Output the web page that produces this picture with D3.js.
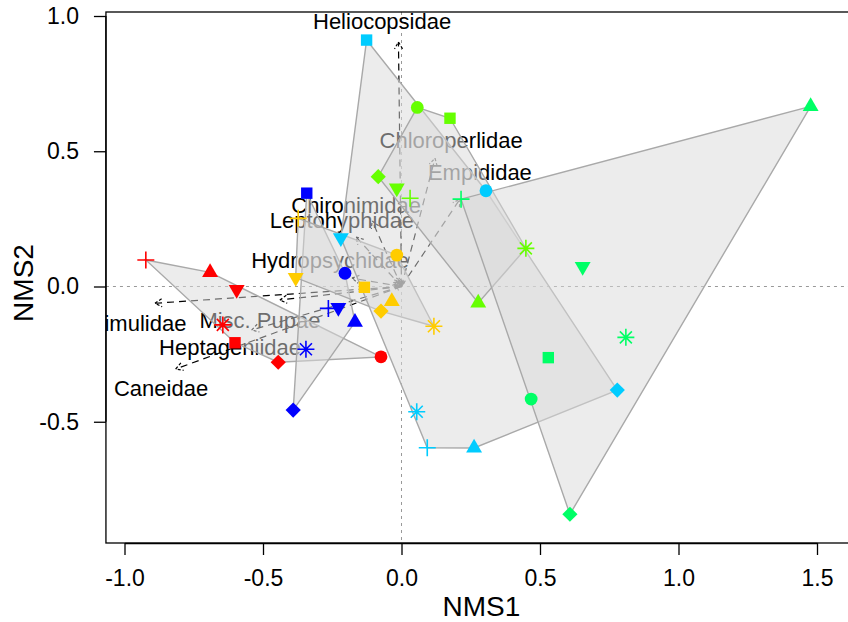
<!DOCTYPE html>
<html><head><meta charset="utf-8">
<script src="https://cdn.jsdelivr.net/npm/d3@7"></script>
<style>
body{margin:0;background:#fff}
svg{display:block}
text{font-family:"Liberation Sans",Arial,Helvetica,sans-serif}
</style>
</head><body>
<svg id="chart" width="848" height="622"></svg>
<script>
// ---- data ----
// marker order within each group
const shapes = ["circle","square","triangleUp","diamond","triangleDown","plus","asterisk"];
const groupNames = ["red","blue","gold","cyan","lime","spring"];
const redX    = [-0.074,-0.601,-0.691,-0.445,-0.595,-0.923,-0.645];
const redY    = [-0.260,-0.208, 0.052,-0.280,-0.011, 0.098,-0.142];
const blueX   = [-0.204,-0.342,-0.168,-0.391,-0.228,-0.264,-0.345];
const blueY   = [ 0.049, 0.345,-0.132,-0.457,-0.078,-0.081,-0.232];
const goldX   = [-0.017,-0.134,-0.035,-0.074,-0.382,-0.373, 0.117];
const goldY   = [ 0.116,-0.003,-0.055,-0.091, 0.033, 0.252,-0.147];
const cyanX   = [ 0.305,-0.126, 0.262, 0.779,-0.219, 0.093, 0.055];
const cyanY   = [ 0.354, 0.911,-0.597,-0.383, 0.180,-0.596,-0.463];
const limeX   = [ 0.057, 0.175, 0.277,-0.084,-0.017, 0.031, 0.449];
const limeY   = [ 0.662, 0.622,-0.061, 0.406, 0.364, 0.326, 0.141];
const springX = [ 0.468, 0.530, 1.477, 0.608, 0.654, 0.215, 0.810];
const springY = [-0.416,-0.263, 0.666,-0.842, 0.074, 0.323,-0.188];

// taxon vectors (arrow tips) and label positions
const taxa   = ["Heliocopsidae","Chloroperlidae","Empididae","Chironimidae","Leptohyphidae",
                "Hydropsychidae","Simulidae","Misc. Pupae","Heptageniidae","Caneidae"];
const tipX   = [-0.011, 0.121, 0.211,-0.106,-0.164,-0.179,-0.890,-0.439,-0.541,-0.815];
const tipY   = [ 0.904, 0.474, 0.323, 0.242, 0.183, 0.031,-0.062,-0.050,-0.161,-0.305];
const labX   = [-0.070, 0.179, 0.283,-0.164,-0.215,-0.258,-0.951,-0.511,-0.619,-0.868];
const labY   = [ 0.981, 0.542, 0.423, 0.301, 0.246, 0.098,-0.135,-0.124,-0.224,-0.375];
// short unlabeled vectors near the origin
const minorX = [-0.030,-0.027,-0.019,-0.033,-0.010];
const minorY = [ 0.014, 0.024, 0.031, 0.004, 0.032];

const xTicks = [-1.0,-0.5,0.0,0.5,1.0,1.5];
const yTicks = [-0.5,0.0,0.5,1.0];
const xTitle = "NMS1", yTitle = "NMS2";

// ---- styles ----
const palette = {red:"#FF0000",blue:"#0000FF",gold:"#FFCC00",cyan:"#00CCFF",lime:"#66FF00",spring:"#00FF66"};
const groupsData = {
  red:[redX,redY], blue:[blueX,blueY], gold:[goldX,goldY],
  cyan:[cyanX,cyanY], lime:[limeX,limeY], spring:[springX,springY]
};

const svg = d3.select("#chart");
const x = d3.scaleLinear().domain([-1,1.5]).range([124.5,817]);
const y = d3.scaleLinear().domain([-0.5,1]).range([421.75,16]);
const box = {left:x(-1.067), right:857, top:12, bottom:543};

svg.append("defs").append("clipPath").attr("id","plotclip")
  .append("rect").attr("x",box.left).attr("y",box.top)
  .attr("width",box.right-box.left).attr("height",box.bottom-box.top);

const plot = svg.append("g").attr("clip-path","url(#plotclip)");

// zero reference lines
plot.append("line").attr("x1",box.left).attr("x2",box.right).attr("y1",y(0)).attr("y2",y(0))
  .attr("stroke","#999").attr("stroke-dasharray","3,4").attr("stroke-width",1);
plot.append("line").attr("x1",x(0)).attr("x2",x(0)).attr("y1",box.top).attr("y2",box.bottom)
  .attr("stroke","#999").attr("stroke-dasharray","3,4").attr("stroke-width",1);

// arrows
function arrow(g, tx, ty){
  const x0=x(0), y0=y(0), x1=x(tx), y1=y(ty);
  g.append("line").attr("x1",x0).attr("y1",y0).attr("x2",x1).attr("y2",y1)
    .attr("stroke","#000").attr("stroke-width",1.2).attr("stroke-dasharray","7,5");
  const ang=Math.atan2(y1-y0,x1-x0), L=8, a=Math.PI/6;
  const p = `M${x1-L*Math.cos(ang-a)},${y1-L*Math.sin(ang-a)}L${x1},${y1}L${x1-L*Math.cos(ang+a)},${y1-L*Math.sin(ang+a)}`;
  g.append("path").attr("d",p).attr("fill","none").attr("stroke","#000").attr("stroke-width",1.2)
    .attr("stroke-dasharray","3,2");
}
const arrowsG = plot.append("g");
taxa.forEach((t,i)=>arrow(arrowsG, tipX[i], tipY[i]));
minorX.forEach((v,i)=>arrow(arrowsG, v, minorY[i]));

plot.append("g").selectAll("text").data(taxa).join("text")
  .attr("x",(d,i)=>x(labX[i])).attr("y",(d,i)=>y(labY[i]))
  .attr("dy","0.36em").attr("text-anchor","middle")
  .attr("font-size",22).attr("fill","#000").text(d=>d);

// hulls
const hullG = plot.append("g");
groupNames.forEach(g=>{
  const [gx,gy]=groupsData[g];
  const pts = gx.map((v,i)=>[x(v),y(gy[i])]);
  const hull = d3.polygonHull(pts);
  hullG.append("path").attr("d","M"+hull.join("L")+"Z")
    .attr("fill","rgb(218,218,218)").attr("fill-opacity",0.5)
    .attr("stroke","#a9a9a9").attr("stroke-width",1.4);
});

// markers
const r=9.2, tw=r*Math.sqrt(3)/2;
const markerPath = {
  circle: null,
  square: "M-5.7,-5.7H5.7V5.7H-5.7Z",
  triangleUp: `M0,${-r}L${tw},${r/2}L${-tw},${r/2}Z`,
  triangleDown: `M0,${r}L${tw},${-r/2}L${-tw},${-r/2}Z`,
  diamond: "M0,-7.6L7.6,0L0,7.6L-7.6,0Z",
  plus: "M-8.5,0H8.5M0,-8.5V8.5",
  asterisk: "M-8.5,0H8.5M0,-8.5V8.5M-6,-6L6,6M-6,6L6,-6"
};
const markG = plot.append("g");
groupNames.forEach(g=>{
  const [gx,gy]=groupsData[g], col=palette[g];
  shapes.forEach((s,i)=>{
    const cx=x(gx[i]), cy=y(gy[i]);
    if(s==="circle"){
      markG.append("circle").attr("cx",cx).attr("cy",cy).attr("r",6.4).attr("fill",col);
    } else if(s==="plus"||s==="asterisk"){
      markG.append("path").attr("d",markerPath[s]).attr("transform",`translate(${cx},${cy})`)
        .attr("fill","none").attr("stroke",col).attr("stroke-width",1.6);
    } else {
      markG.append("path").attr("d",markerPath[s]).attr("transform",`translate(${cx},${cy})`)
        .attr("fill",col);
    }
  });
});

// box
svg.append("rect").attr("x",box.left).attr("y",box.top)
  .attr("width",box.right-box.left).attr("height",box.bottom-box.top)
  .attr("fill","none").attr("stroke","#000").attr("stroke-width",1.3);

// axes
const fmt = d=>d.toFixed(1);
const xa = svg.append("g").attr("transform",`translate(0,${box.bottom})`)
  .call(d3.axisBottom(x).tickValues(xTicks).tickFormat(fmt).tickSize(12).tickSizeOuter(0).tickPadding(15));
const ya = svg.append("g").attr("transform",`translate(${box.left},0)`)
  .call(d3.axisLeft(y).tickValues(yTicks).tickFormat(fmt).tickSize(12).tickSizeOuter(0).tickPadding(15));
[xa,ya].forEach(a=>{
  a.selectAll("path").attr("stroke","#000").attr("stroke-width",1.3);
  a.selectAll("line").attr("stroke","#000").attr("stroke-width",1.3);
  a.selectAll("text").attr("font-size",23).attr("fill","#000")
    .style("font-family",'"Liberation Sans",Arial,sans-serif');
});
ya.select(".domain").attr("d",`M0,${y(-0.5)}V${y(1)}`);

svg.append("text").attr("x",(box.left+box.right)/2).attr("y",616)
  .attr("text-anchor","middle").attr("font-size",28).text(xTitle);
svg.append("text").attr("transform",`translate(33,283) rotate(-90)`)
  .attr("text-anchor","middle").attr("font-size",28).text(yTitle);
</script>
</body></html>
